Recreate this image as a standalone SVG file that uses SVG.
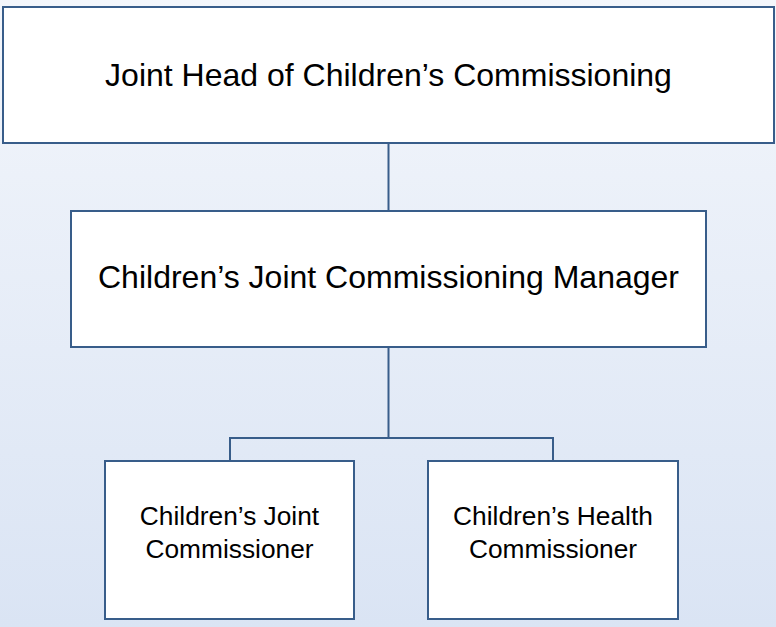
<svg xmlns="http://www.w3.org/2000/svg" width="776" height="627" viewBox="0 0 776 627">
<defs>
<linearGradient id="bg" x1="0" y1="0" x2="0" y2="1">
<stop offset="0" stop-color="#f3f6fb"/>
<stop offset="1" stop-color="#dae4f4"/>
</linearGradient>
<style>
.box{fill:#ffffff;stroke:#385d8a;stroke-width:2}
.conn{fill:none;stroke:#385d8a;stroke-width:2}
.big{font-family:"Liberation Sans",Arial,sans-serif;font-size:32px;fill:#000;text-anchor:middle}
.small{font-family:"Liberation Sans",Arial,sans-serif;font-size:26.3px;fill:#000;text-anchor:middle}
</style>
</defs>
<rect x="0" y="0" width="776" height="627" fill="url(#bg)"/>
<g id="connectors">
<line class="conn" x1="388.5" y1="143" x2="388.5" y2="211"/>
<line class="conn" x1="388.5" y1="347" x2="388.5" y2="438"/>
<polyline class="conn" points="230,461 230,438 553,438 553,461"/>
</g>
<g id="node-head">
<rect class="box" x="3" y="7" width="771" height="136"/>
<text class="big" x="388.5" y="86">Joint Head of Children’s Commissioning</text>
</g>
<g id="node-manager">
<rect class="box" x="71" y="211" width="635" height="136"/>
<text class="big" x="388.5" y="288">Children’s Joint Commissioning Manager</text>
</g>
<g id="node-joint-commissioner">
<rect class="box" x="105" y="461" width="249" height="158"/>
<text class="small" x="229.5" y="525">Children’s Joint</text>
<text class="small" x="229.5" y="558">Commissioner</text>
</g>
<g id="node-health-commissioner">
<rect class="box" x="428" y="461" width="250" height="158"/>
<text class="small" x="553" y="525">Children’s Health</text>
<text class="small" x="553" y="558">Commissioner</text>
</g>
</svg>
